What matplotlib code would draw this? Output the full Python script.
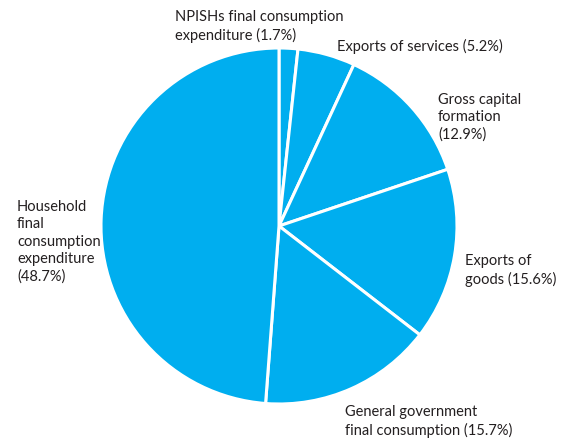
import matplotlib
matplotlib.use("Agg")
import matplotlib.pyplot as plt

# Expenditure shares (%), clockwise from 12 o'clock
categories = [
    "NPISHs final consumption\nexpenditure",
    "Exports of services",
    "Gross capital\nformation\n",
    "Exports of\ngoods",
    "General government\nfinal consumption",
    "Household\nfinal\nconsumption\nexpenditure\n",
]
shares = [1.7, 5.2, 12.9, 15.6, 15.7, 48.7]

plt.rcParams["font.family"] = ["Lato", "DejaVu Sans"]

W, H = 568, 441
fig = plt.figure(figsize=(W / 100, H / 100), dpi=100)

cx, cy, r = 279, 226, 178
ax = fig.add_axes([(cx - r) / W, (H - cy - r) / H, 2 * r / W, 2 * r / H])
ax.pie(shares, startangle=90, counterclock=False, radius=1,
       colors=["#00aeef"] * len(shares),
       wedgeprops=dict(edgecolor="white", linewidth=2.2))
ax.set_xlim(-1, 1)
ax.set_ylim(-1, 1)
ax.set_aspect("equal")
ax.axis("off")

# label anchors (left, top) in pixels
label_pos = [(175, 10), (337, 39), (438, 93), (465, 254), (345, 405), (17, 200)]
for name, val, (x, y) in zip(categories, shares, label_pos):
    sep = "" if name.endswith("\n") else " "
    fig.text(x / W, 1 - y / H, f"{name}{sep}({val}%)", ha="left", va="top",
             fontsize=10.5, color="#231f20", linespacing=1.3)

fig.savefig("out.png", dpi=100)
